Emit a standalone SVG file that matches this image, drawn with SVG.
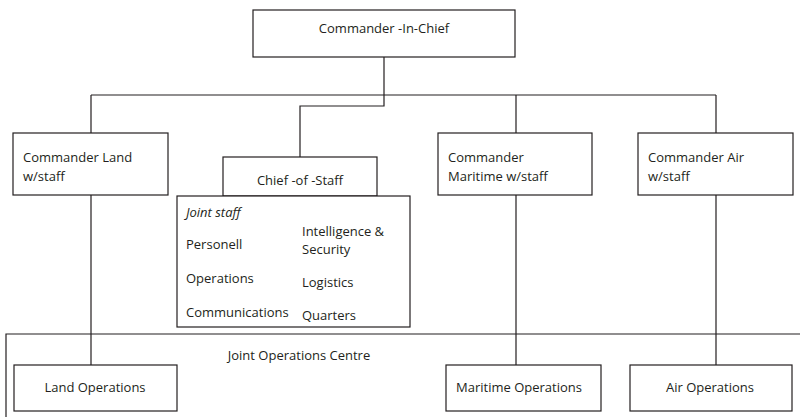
<svg xmlns="http://www.w3.org/2000/svg" width="800" height="417" viewBox="0 0 800 417">
<style>
.b{fill:#fff;stroke:#231f20;stroke-width:1.2}
.l{fill:none;stroke:#231f20;stroke-width:1.2}
text{font-family:"Open Sans","Liberation Sans",sans-serif;font-size:13px;fill:#231f20}
.c{text-anchor:middle}
.i{font-style:italic}
</style>
<rect width="800" height="417" fill="#fff"/>
<g id="connectors">
<path class="l" d="M384 57V95M91 95H716M91 95V133M516 95V133M716 95V133M384 95V106H300V157"/>
<path class="l" d="M91 195V365M516 195V365M716 195V365"/>
</g>
<g id="joc">
<path class="l" d="M801 334H6V418"/>
<text class="c" x="299" y="360">Joint Operations Centre</text>
</g>
<g id="cinc">
<rect class="b" x="253" y="10" width="262" height="47"/>
<text class="c" x="384" y="33">Commander -In-Chief</text>
</g>
<g id="cland">
<rect class="b" x="13" y="133" width="155" height="62"/>
<text x="23" y="162">Commander Land</text>
<text x="23" y="181">w/staff</text>
</g>
<g id="cos">
<rect class="b" x="223" y="157" width="154" height="39"/>
<text class="c" x="300" y="185">Chief -of -Staff</text>
</g>
<g id="jointstaff">
<rect class="b" x="177" y="196" width="233" height="131"/>
<text class="i" x="186" y="217">Joint staff</text>
<text x="186" y="249">Personell</text>
<text x="302" y="236">Intelligence &amp;</text>
<text x="302" y="254">Security</text>
<text x="186" y="283">Operations</text>
<text x="302" y="287">Logistics</text>
<text x="186" y="317">Communications</text>
<text x="302" y="320">Quarters</text>
</g>
<g id="cmar">
<rect class="b" x="438" y="133" width="154" height="62"/>
<text x="448" y="162">Commander</text>
<text x="448" y="181">Maritime w/staff</text>
</g>
<g id="cair">
<rect class="b" x="638" y="133" width="155" height="62"/>
<text x="648" y="162">Commander Air</text>
<text x="648" y="181">w/staff</text>
</g>
<g id="landops">
<rect class="b" x="14" y="365" width="163" height="46"/>
<text class="c" x="95" y="392">Land Operations</text>
</g>
<g id="marops">
<rect class="b" x="446" y="365" width="155" height="46"/>
<text class="c" x="519" y="392">Maritime Operations</text>
</g>
<g id="airops">
<rect class="b" x="630" y="365" width="162" height="46"/>
<text class="c" x="710" y="392">Air Operations</text>
</g>
</svg>
